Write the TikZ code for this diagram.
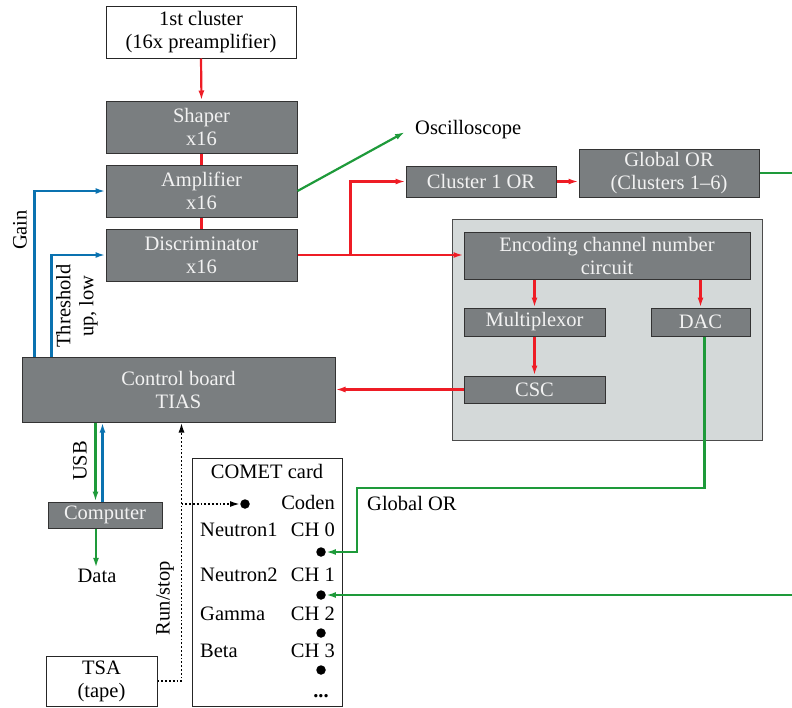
\documentclass[tikz,border=0pt]{standalone}
\usepackage{fontspec}
\setmainfont{Liberation Serif}
\usetikzlibrary{arrows.meta,calc}
\definecolor{rd}{HTML}{EE1C25}
\definecolor{gn}{HTML}{1E9A3A}
\definecolor{bl}{HTML}{0A72B0}
\definecolor{boxgray}{HTML}{7A7E80}
\definecolor{panel}{HTML}{D4D9D9}
\definecolor{boxtext}{HTML}{F2F2F2}
\begin{document}
\begin{tikzpicture}[x=1pt,y=-1pt,
  font=\fontsize{20.5}{23}\selectfont,
  gbox/.style={draw=black!80, line width=1pt, fill=boxgray, text=boxtext, align=center, inner sep=0pt},
  wbox/.style={draw=black!85, line width=1pt, fill=white, align=center, inner sep=0pt},
  panelbox/.style={draw=black!70, line width=1pt, fill=panel, inner sep=0pt},
  arr/.style={-{Latex[length=10pt,width=6pt]}},
  redline/.style={draw=rd, line width=2.2pt},
  greenline/.style={draw=gn, line width=2.2pt},
  blueline/.style={draw=bl, line width=2.2pt},
  dotline/.style={draw=black, line width=1.8pt, dotted},
  lbl/.style={inner sep=0pt, text height=14pt, text depth=4pt},
  dot/.style={circle, fill=black, minimum size=9.5pt, inner sep=0pt}]
\useasboundingbox (0,0) rectangle (792,707);

% main chain
\node[wbox, minimum width=190pt, minimum height=52pt] (clu) at (201,32) {1st cluster\\(16x preamplifier)};
\node[gbox, minimum width=191pt, minimum height=52pt] (shp) at (201.5,127) {Shaper\\x16};
\node[gbox, minimum width=191pt, minimum height=52pt] (amp) at (201.5,191) {Amplifier\\x16};
\node[gbox, minimum width=191pt, minimum height=52pt] (disc) at (201.5,255) {Discriminator\\x16};

\node[anchor=west, inner sep=0pt] (osc) at (415,130) {Oscilloscope};
\node[gbox, minimum width=150pt, minimum height=31pt] (c1or) at (481,181.5) {Cluster 1 OR};
\node[gbox, minimum width=180pt, minimum height=48pt] (gor) at (669,173) {Global OR\\(Clusters 1--6)};

% panel
\node[panelbox, minimum width=310pt, minimum height=221pt] (pan) at (607,329.5) {};
\node[gbox, minimum width=286pt, minimum height=47pt] (enc) at (607,255.5) {Encoding channel number\\circuit};
\node[gbox, minimum width=141pt, minimum height=28pt] (mux) at (534.5,322) {Multiplexor};
\node[gbox, minimum width=99pt, minimum height=28pt] (dac) at (700.5,322) {DAC};
\node[gbox, minimum width=141pt, minimum height=27pt] (csc) at (534.5,389.5) {CSC};

% control
\node[gbox, minimum width=313pt, minimum height=65pt] (ctrl) at (178.5,389.5) {Control board\\TIAS};
\node[gbox, minimum width=114pt, minimum height=26pt] (comp) at (105,515) {Computer};
\node[lbl] (data) at (97,577) {Data};
\node[wbox, minimum width=111pt, minimum height=50pt] (tsa) at (101.5,681) {TSA\\(tape)};

% rotated labels
\node[rotate=90, inner sep=0pt] (gain) at (20,230) {Gain};
\node[rotate=90, inner sep=0pt, align=center] (thr) at (77,306) {Threshold\\up, low};
\node[rotate=90, inner sep=0pt] (usb) at (80,461) {USB};
\node[rotate=90, inner sep=0pt] (runstop) at (165,598) {Run/stop};

% COMET card
\node[wbox, minimum width=150pt, minimum height=248pt] (comet) at (267,582) {};
\node[lbl] (ctitle) at (267,473) {COMET card};
\node[lbl, anchor=east] (coden) at (335,504) {Coden};
\node[lbl, anchor=west] (n1) at (200,531) {Neutron1};
\node[lbl, anchor=east] (ch0) at (335,531) {CH 0};
\node[lbl, anchor=west] (n2) at (200,576) {Neutron2};
\node[lbl, anchor=east] (ch1) at (335,576) {CH 1};
\node[lbl, anchor=west] (gam) at (200,615) {Gamma};
\node[lbl, anchor=east] (ch2) at (335,615) {CH 2};
\node[lbl, anchor=west] (beta) at (200,652) {Beta};
\node[lbl, anchor=east] (ch3) at (335,652) {CH 3};
\node[inner sep=0pt] (dots) at (321,696) {\textbf{...}};
\node[dot] (dcoden) at (245,504) {};
\node[dot] (d0) at (321,552) {};
\node[dot] (d1) at (321,595) {};
\node[dot] (d2) at (321,633) {};
\node[dot] (d3) at (321,670) {};

\node[lbl, anchor=west] (golbl) at (367,505) {Global OR};

\coordinate (gk) at (357,488);
\coordinate (redge1) at (792,173);
\coordinate (redge2) at (792,595);

% red connectors
\draw[redline, arr] (clu.south) -- (shp.north);
\draw[redline] (shp.south) -- (amp.north);
\draw[redline] (amp.south) -- (disc.north);
\draw[redline, arr] (disc.east) -- (disc.east -| enc.west);
\draw[redline, arr] ([xshift=53pt]disc.east) |- (c1or.west);
\draw[redline, arr] (c1or.east) -- (c1or.east -| gor.west);
\draw[redline, arr] (mux.north |- enc.south) -- (mux.north);
\draw[redline, arr] (dac.north |- enc.south) -- (dac.north);
\draw[redline, arr] (mux.south) -- (csc.north);
\draw[redline, arr] (csc.west) -- (csc.west -| ctrl.east);

% green connectors
\draw[greenline, arr] (amp.east) -- ([xshift=-10pt,yshift=-2pt]osc.west);
\draw[greenline] (gor.east) -- (redge1);
\draw[greenline, arr] ([xshift=4pt]dac.south) |- (gk) |- (d0);
\draw[greenline, arr] (redge2) -- (d1);
\draw[greenline, arr] ([xshift=74pt]ctrl.south west) -- ([xshift=74pt]ctrl.south west |- comp.north);
\draw[greenline, arr] ([xshift=-9pt]comp.south) -- ([xshift=-9pt]comp.south |- data.north);

% blue connectors
\draw[blueline, arr] ([xshift=13pt]ctrl.north west) |- (amp.west);
\draw[blueline, arr] ([xshift=30pt]ctrl.north west) |- (disc.west);
\draw[blueline, arr] ([xshift=81pt]ctrl.south west |- comp.north) -- ([xshift=81pt]ctrl.south west);

% dotted connectors
\draw[dotline, arr] (tsa.east) -| ([xshift=160pt]ctrl.south west);
\draw[dotline, arr] ([xshift=160pt]ctrl.south west |- dcoden) -- (dcoden);
\end{tikzpicture}
\end{document}
